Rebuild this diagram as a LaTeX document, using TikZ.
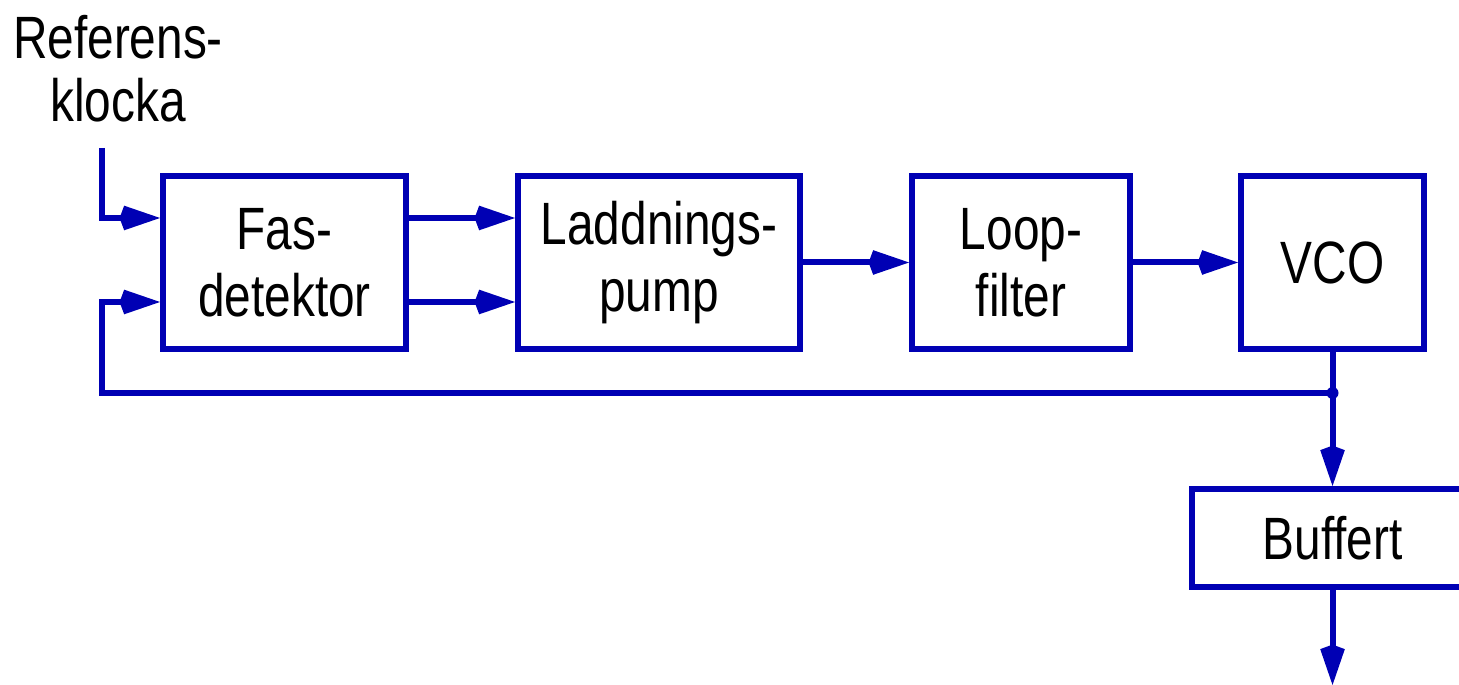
\documentclass[tikz,border=0pt]{standalone}
\usepackage{fontspec}
\setmainfont[FakeStretch=0.8]{Liberation Sans}
\usepackage{tikz}
\usetikzlibrary{positioning,arrows.meta,calc}
\usepackage{xcolor}
\definecolor{wire}{HTML}{0000B4}

\begin{document}
\begin{tikzpicture}[
        blockCard/.style={draw=wire, line width=1.7pt, rectangle, font=\fontsize{17}{19}\selectfont, align=center, minimum height=1.73cm, inner sep=0pt},
        sigArrow/.style={-{Kite[length=11.5pt, width=7pt, inset=1.3pt]}, line width=1.7pt, draw=wire}
    ]
        \clip (0,0) rectangle (14.59,6.85);

        % Insignal
        \node[font=\fontsize{17}{18}\selectfont, align=center] (refText) at (1.18, 6.16) {Referens-\\klocka};

        % Block i slingan
        \node[blockCard, minimum width=2.43cm] (fasDet) at (2.845, 4.225) {Fas-\\detektor};
        \node[blockCard, minimum width=2.82cm] (laddPump) at (6.59, 4.225) {Laddnings-\\pump};
        \node[blockCard, minimum width=2.18cm] (loopFilt) at (10.21, 4.225) {Loop-\\filter};
        \node[blockCard, minimum width=1.83cm] (vco) at (13.325, 4.225) {VCO};

        % Utgang
        \node[blockCard, minimum width=2.82cm, minimum height=0.98cm] (buffert) at (13.325, 1.47) {Buffert};

        \coordinate (refIn) at (1.02, 5.37);
        \coordinate (tap) at (13.325, 2.92);
        \coordinate (fbCorner) at (1.02, 2.92);
        \coordinate (outEnd) at (13.325, 0);

        \draw[sigArrow] (refIn) |- ([yshift=4.45mm]fasDet.west);
        \draw[sigArrow] ([yshift=4.45mm]fasDet.east) -- ([yshift=4.45mm]laddPump.west);
        \draw[sigArrow] ([yshift=-3.95mm]fasDet.east) -- ([yshift=-3.95mm]laddPump.west);
        \draw[sigArrow] (laddPump.east) -- (loopFilt.west);
        \draw[sigArrow] (loopFilt.east) -- (vco.west);

        % Aterkoppling
        \draw[line width=1.7pt, draw=wire] (vco.south) -- (tap);
        \draw[sigArrow] (tap) -- (fbCorner) |- ([yshift=-3.95mm]fasDet.west);
        \fill[wire] (tap) circle (0.06);
        \draw[sigArrow] (tap) -- (buffert.north);
        \draw[sigArrow] (buffert.south) -- (outEnd);
    \end{tikzpicture}
\end{document}
